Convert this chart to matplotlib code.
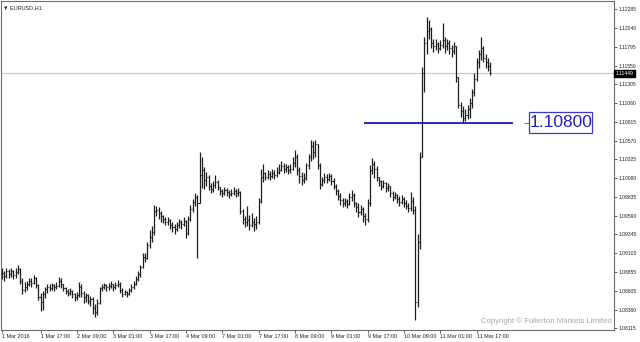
## EURUSD H1 chart, 1-11 Mar 2016, MT4 style bar chart
import matplotlib
matplotlib.use("Agg")
import matplotlib.pyplot as plt
from matplotlib.patches import Rectangle
import numpy as np

plt.rcParams['font.family'] = ['Liberation Sans', 'DejaVu Sans']

# hourly bars, index 0 = 1 Mar 00:00 (weekend skipped)
close = [
    1.0884, 1.0880, 1.0886, 1.0883, 1.0887, 1.0881, 1.0885, 1.0889,  # 0-7
    1.0873, 1.0862, 1.0866,  # 8-10
    1.0870, 1.0874, 1.0871, 1.0877, 1.0868,  # 11-15
    1.0852, 1.0846, 1.0856,  # 16-18
    1.0863, 1.0866,  # 19-20
    1.0864, 1.0868, 1.0865, 1.0867,  # 21-24
    1.0874, 1.0869,  # 25-26
    1.0864, 1.0861, 1.0858, 1.0860, 1.0856,  # 27-31
    1.0852, 1.0855,  # 32-33
    1.0866, 1.0858,  # 34-35
    1.0852, 1.0855, 1.0847, 1.0850,  # 36-39
    1.0838, 1.0833, 1.0845,  # 40-42
    1.0864,  # 43
    1.0866, 1.0868, 1.0865, 1.0867, 1.0869, 1.0866, 1.0868, 1.0870,  # 44-51
    1.0862, 1.0856, 1.0859, 1.0857,  # 52-55
    1.0862, 1.0866, 1.0870, 1.0876, 1.0883,  # 56-60
    1.0892, 1.0905, 1.0904,  # 61-63
    1.0920, 1.0931,  # 64-65
    1.0938, 1.0965,  # 66-67
    1.0966, 1.0962, 1.0958,  # 68-70
    1.0955, 1.0951, 1.0953, 1.0947, 1.0944, 1.0941,  # 71-76
    1.0946, 1.0950, 1.0948, 1.0952, 1.0936,  # 77-81
    1.0955, 1.0968, 1.0977, 1.0983,  # 82-85
    1.0975,  # 86
    1.1012, 1.1018,  # 87-88
    1.1005, 1.1009, 1.0998,  # 89-91
    1.0994, 1.0999, 1.1003, 1.0996,  # 92-95
    1.0991, 1.0988, 1.0992, 1.0990, 1.0987, 1.0989, 1.0991, 1.0988, 1.0990,  # 96-104
    1.0965, 1.0955,  # 105-106
    1.0950, 1.0953, 1.0946, 1.0951, 1.0948, 1.0950,  # 107-112
    1.0978, 1.1010, 1.1015,  # 113-115
    1.1010, 1.1013, 1.1011, 1.1014, 1.1012, 1.1016, 1.1019,  # 116-122
    1.1024, 1.1020, 1.1022, 1.1018, 1.1020, 1.1028,  # 123-128
    1.1035, 1.1018,  # 129-130
    1.1011, 1.1006, 1.1008,  # 131-133
    1.1025, 1.1035,  # 134-135
    1.1050, 1.1042, 1.1052,  # 136-138
    1.1025, 1.1000,  # 139-140
    1.1005, 1.1010, 1.1007, 1.1011, 1.1004,  # 141-145
    1.0998, 1.0991, 1.0984, 1.0979, 1.0975,  # 146-150
    1.0978, 1.0974,  # 151-152
    1.0983, 1.0986, 1.0976,  # 153-155
    1.0970, 1.0964, 1.0968, 1.0958, 1.0954,  # 156-160
    1.0975, 1.1018, 1.1027,  # 161-163
    1.1020, 1.1010,  # 164-165
    1.1004, 1.0998, 1.1001, 1.0995, 1.0997,  # 166-170
    1.0988, 1.0983, 1.0986,  # 171-173
    1.0981, 1.0977, 1.0980, 1.0976,  # 174-177
    1.0972, 1.0969,  # 178-179
    1.0978, 1.0966,  # 180-181
    1.0846, 1.0925, 1.1035, 1.1145, 1.1185, 1.1200, 1.1203,  # 182-188 (ECB)
    1.1185, 1.1180, 1.1183, 1.1178, 1.1182,  # 189-193
    1.1188,  # 194
    1.1180, 1.1185, 1.1178, 1.1174, 1.1180,  # 195-199
    1.1140, 1.1104,  # 200-201
    1.1095, 1.1086, 1.1090,  # 202-204
    1.1098, 1.1106,  # 205-206
    1.1120, 1.1138,  # 207-208
    1.1160, 1.1170,  # 209-210
    1.1178,  # 211
    1.1165, 1.1160, 1.1155, 1.11449,  # 212-215
]

high = [
    1.0890, 1.0887, 1.0890, 1.0889, 1.0891, 1.0888, 1.0890, 1.0894,
    1.0891, 1.0878, 1.0872,
    1.0873, 1.0878, 1.0877, 1.0881, 1.0879,
    1.0870, 1.0858, 1.0860,
    1.0866, 1.0869,
    1.0869, 1.0871, 1.0870, 1.0872,
    1.0879, 1.0877,
    1.0870, 1.0866, 1.0863, 1.0864, 1.0862,
    1.0858, 1.0859,
    1.0872, 1.0869,
    1.0860, 1.0858, 1.0857, 1.0854,
    1.0852, 1.0844, 1.0850,
    1.0866,
    1.0870, 1.0871, 1.0870, 1.0871, 1.0873, 1.0870, 1.0872, 1.0875,
    1.0872, 1.0864, 1.0862, 1.0861,
    1.0864, 1.0869, 1.0873, 1.0880, 1.0886,
    1.0895, 1.0910, 1.0910,
    1.0925, 1.0940,
    1.0945, 1.0973,
    1.0972, 1.0970, 1.0965,
    1.0960, 1.0957, 1.0957, 1.0955, 1.0950, 1.0948,
    1.0950, 1.0955, 1.0953, 1.0957, 1.0953,
    1.0958, 1.0973, 1.0981, 1.0988,
    1.0986,
    1.1042, 1.1035,
    1.1022, 1.1016, 1.1012,
    1.1001, 1.1004, 1.1012, 1.1005,
    1.0996, 1.0994, 1.0996, 1.0995, 1.0993, 1.0994, 1.0996, 1.0994, 1.0995,
    1.0991, 1.0968,
    1.0958, 1.0972, 1.0960, 1.0962, 1.0956, 1.0958,
    1.0982, 1.1020, 1.1027,
    1.1016, 1.1018, 1.1017, 1.1020, 1.1019, 1.1022, 1.1026,
    1.1030, 1.1028, 1.1027, 1.1025, 1.1026, 1.1036,
    1.1045, 1.1040,
    1.1022, 1.1016, 1.1014,
    1.1028, 1.1040,
    1.1058, 1.1057, 1.1058,
    1.1052, 1.1028,
    1.1010, 1.1014, 1.1013, 1.1015, 1.1013,
    1.1008, 1.1000, 1.0994, 1.0988, 1.0982,
    1.0982, 1.0980,
    1.0989, 1.0992, 1.0988,
    1.0977, 1.0975, 1.0973, 1.0970, 1.0962,
    1.0980, 1.1025, 1.1034,
    1.1030, 1.1024,
    1.1010, 1.1006, 1.1006, 1.1003, 1.1002,
    1.0998, 1.0991, 1.0990,
    1.0987, 1.0985, 1.0986, 1.0983,
    1.0979, 1.0976,
    1.0990, 1.0983,
    1.0972, 1.0935, 1.1042, 1.1153, 1.1192, 1.1218, 1.1215,
    1.1205, 1.1190, 1.1190, 1.1186, 1.1188,
    1.1211,
    1.1192, 1.1190, 1.1188, 1.1182, 1.1186,
    1.1180, 1.1140,
    1.1108, 1.1102, 1.1098,
    1.1104, 1.1113,
    1.1125, 1.1145,
    1.1165, 1.1175,
    1.1192,
    1.1180, 1.1170, 1.1165, 1.1160,
]

low = [
    1.0876, 1.0874, 1.0878, 1.0877, 1.0879, 1.0876, 1.0878, 1.0882,
    1.0869, 1.0857, 1.0859,
    1.0862, 1.0867, 1.0866, 1.0869, 1.0864,
    1.0848, 1.0834, 1.0835,
    1.0851, 1.0858,
    1.0860, 1.0862, 1.0861, 1.0863,
    1.0865, 1.0864,
    1.0860, 1.0856, 1.0854, 1.0855, 1.0851,
    1.0847, 1.0849,
    1.0852, 1.0853,
    1.0845, 1.0846, 1.0843, 1.0841,
    1.0830, 1.0826, 1.0829,
    1.0843,
    1.0861, 1.0863, 1.0861, 1.0862, 1.0864, 1.0861, 1.0863, 1.0865,
    1.0858, 1.0853, 1.0855, 1.0853,
    1.0855, 1.0859, 1.0863, 1.0868, 1.0874,
    1.0879, 1.0890, 1.0898,
    1.0902, 1.0917,
    1.0924, 1.0934,
    1.0958, 1.0955, 1.0951,
    1.0949, 1.0946, 1.0946, 1.0942, 1.0938, 1.0935,
    1.0939, 1.0943, 1.0942, 1.0945, 1.0929,
    1.0933, 1.0952, 1.0964, 1.0972,
    1.0903,
    1.0975, 1.0995,
    1.0994, 1.0998, 1.0993,
    1.0988, 1.0990, 1.0995, 1.0992,
    1.0986, 1.0983, 1.0986, 1.0985, 1.0982, 1.0984, 1.0986, 1.0983, 1.0985,
    1.0961, 1.0948,
    1.0944, 1.0945, 1.0940, 1.0944, 1.0939, 1.0941,
    1.0948, 1.0975, 1.1003,
    1.1005, 1.1007, 1.1006, 1.1008, 1.1007, 1.1010, 1.1013,
    1.1017, 1.1015, 1.1016, 1.1013, 1.1014, 1.1018,
    1.1022, 1.1012,
    1.1002, 1.0999, 1.1001,
    1.1005, 1.1020,
    1.1030, 1.1033, 1.1035,
    1.1020, 1.0994,
    1.0998, 1.1002, 1.1001, 1.1004, 1.0999,
    1.0994, 1.0986, 1.0979, 1.0973, 1.0970,
    1.0971, 1.0969,
    1.0973, 1.0978, 1.0970,
    1.0964, 1.0957, 1.0960, 1.0950, 1.0947,
    1.0950, 1.0972, 1.1013,
    1.1008, 1.1004,
    1.0998, 1.0993, 1.0995, 1.0990, 1.0991,
    1.0983, 1.0978, 1.0980,
    1.0975, 1.0972, 1.0974, 1.0970,
    1.0967, 1.0963,
    1.0965, 1.0961,
    1.0822, 1.0840, 1.0915, 1.1035, 1.1120, 1.1170, 1.1190,
    1.1178, 1.1173, 1.1176, 1.1172, 1.1175,
    1.1178,
    1.1172, 1.1176, 1.1170, 1.1166, 1.1170,
    1.1133, 1.1100,
    1.1088, 1.1081, 1.1083,
    1.1085, 1.1087,
    1.1100, 1.1115,
    1.1135, 1.1152,
    1.1162,
    1.1160, 1.1152, 1.1148, 1.1143,
]

first_open = 1.0882
last_price = 1.11449
level = 1.10800

ytick_vals = [1.12285, 1.12040, 1.11795, 1.11550, 1.11305, 1.11060, 1.10815,
              1.10570, 1.10325, 1.10080, 1.09835, 1.09590, 1.09345, 1.09100,
              1.08855, 1.08605, 1.08360, 1.08115]
xtick_bars = [0, 17, 33, 49, 65, 81, 97, 113, 129, 145, 161, 177, 193, 209]
xtick_labels = ['1 Mar 2016', '1 Mar 17:00', '2 Mar 09:00', '3 Mar 01:00',
                '3 Mar 17:00', '4 Mar 09:00', '7 Mar 01:00', '7 Mar 17:00',
                '8 Mar 09:00', '9 Mar 01:00', '9 Mar 17:00', '10 Mar 09:00',
                '11 Mar 01:00', '11 Mar 17:00']

c = np.array(close)
h = np.array(high)
l = np.array(low)
o = np.concatenate([[first_open], c[:-1]])  # fx bars open at previous close
x = np.arange(len(c))

fig = plt.figure(figsize=(6.4, 3.42), dpi=100)
ax = fig.add_axes([1 / 640, 12 / 342, 613 / 640, 329 / 342])

# current price line
ax.axhline(last_price, color='#c8c8c8', lw=0.8, zorder=1)

bar_col = '#1e1e1e'
ax.vlines(x, l, h, color=bar_col, lw=0.9, zorder=3)
ax.hlines(o, x - 0.45, x, color=bar_col, lw=0.8, zorder=3)
ax.hlines(c, x, x + 0.45, color=bar_col, lw=0.8, zorder=3)

# horizontal level drawn on the chart + its label
blue = '#1818b0'
ax.hlines(level, 159.6, 225.0, color=blue, lw=1.3, zorder=4)
ax.hlines(level, 229.8, 231.9, color='#7070d8', lw=0.8, zorder=4)
ax.add_patch(Rectangle((231.9, 1.10668), 28.1, 0.00275, facecolor='white',
                       edgecolor='#3a3ad0', lw=0.9, zorder=5))
ax.text(246.0, 1.10806, '1.10800', color='#2020c0', fontsize=12.5,
        ha='center', va='center', zorder=6)

ax.set_xlim(-0.4, 269.5)
ax.set_ylim(1.08094, 1.12394)

for s in ax.spines.values():
    s.set_color('#6e6e6e')
    s.set_linewidth(0.8)

ax.yaxis.tick_right()
ax.set_yticks(ytick_vals)
ax.set_yticklabels(['%.5f' % v for v in ytick_vals])
ax.tick_params(axis='y', labelsize=3.6, length=2, width=0.5, pad=1.5,
               colors='#202020')
ax.set_xticks(xtick_bars)
ax.set_xticklabels(xtick_labels, ha='left')
ax.tick_params(axis='x', labelsize=3.9, length=2, width=0.5, pad=1.2,
               colors='#202020')

# price tag on the right scale
ax.text(1.0025, last_price, '1.11449', transform=ax.get_yaxis_transform(),
        fontsize=3.6, color='white', ha='left', va='center', zorder=7,
        clip_on=False,
        bbox=dict(boxstyle='square,pad=0.25', facecolor='black',
                  edgecolor='black'))

ax.text(0.004, 0.988, '\u25bc EURUSD,H1', transform=ax.transAxes,
        fontsize=4, color='#202020', ha='left', va='top')
ax.text(0.996, 0.016, 'Copyright \u00a9 Fullerton Markets Limited',
        transform=ax.transAxes, fontsize=5.6, color='#a8a8a8',
        ha='right', va='bottom',
        family=['Liberation Sans Narrow', 'Liberation Sans', 'DejaVu Sans'])

fig.savefig('out.png', dpi=100, facecolor='white')
